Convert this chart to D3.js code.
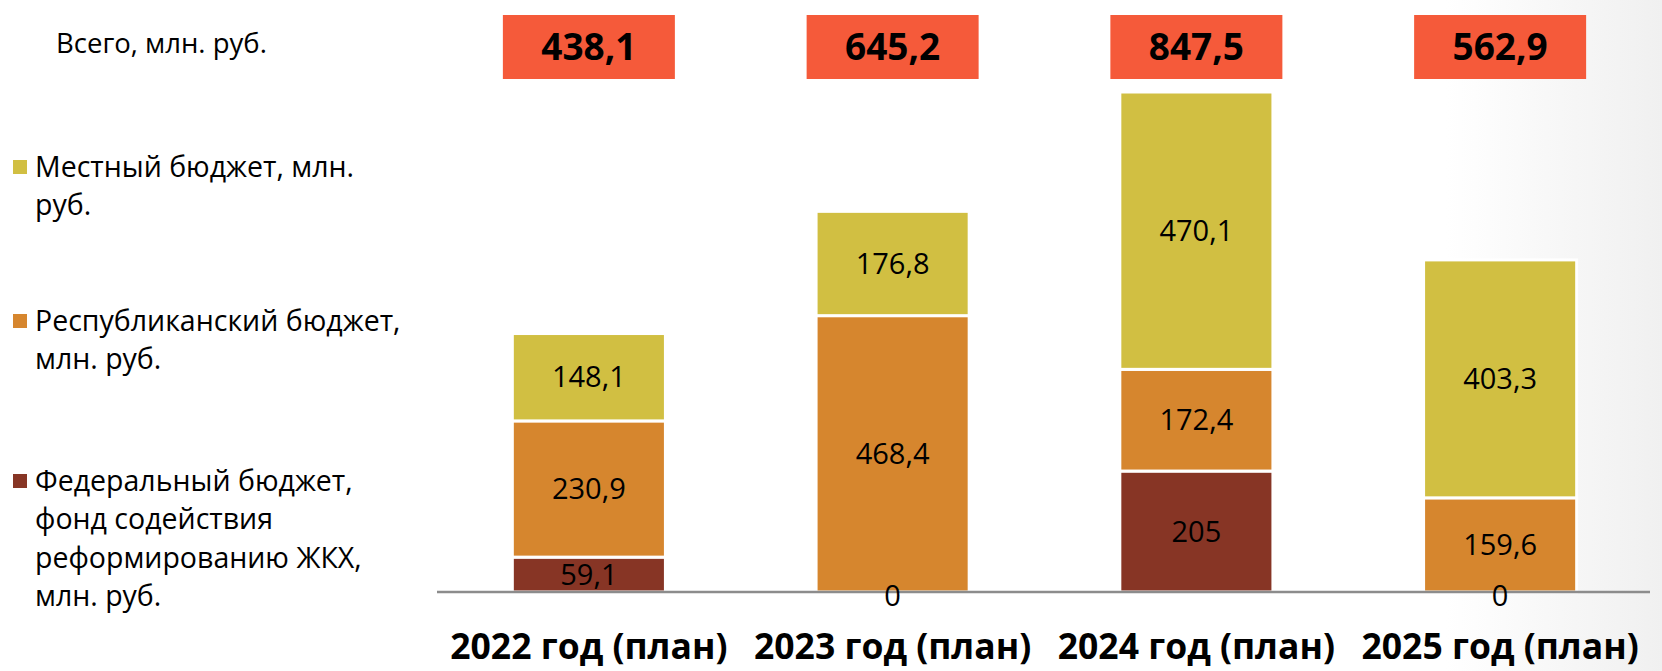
<!DOCTYPE html>
<html>
    <head>
        <meta charset="utf-8">
        <title>Бюджет по годам</title>
        <script src="https://d3js.org/d3.v7.min.js"></script>
        <style>
            body { margin: 0; background: #fff; }
            svg { display: block; font-family: 'Open Sans', 'Noto Sans', sans-serif; }
        </style>
    </head>
    <body>
        <script>
            const years = ['2022 год (план)', '2023 год (план)', '2024 год (план)', '2025 год (план)']
            const federal = [59.1, 0, 205, 0]
            const republican = [230.9, 468.4, 172.4, 159.6]
            const local = [148.1, 176.8, 470.1, 403.3]
            const totals = [438.1, 645.2, 847.5, 562.9]

            const seriesNames = [
                'Федеральный бюджет, фонд содействия реформированию ЖКХ, млн. руб.',
                'Республиканский бюджет, млн. руб.',
                'Местный бюджет, млн. руб.'
            ]
            const legendLines = [
                ['Федеральный бюджет,', 'фонд содействия', 'реформированию ЖКХ,', 'млн. руб.'],
                ['Республиканский бюджет,', 'млн. руб.'],
                ['Местный бюджет, млн.', 'руб.']
            ]
            const colors = ['#873525', '#d6862e', '#d1bf42']
            const totalColor = '#f55a3a'

            const W = 1662, H = 671
            const svg = d3.select('body').append('svg')
                .attr('width', W).attr('height', H)

            // faint grey shading on the right edge
            const grad = svg.append('defs').append('linearGradient')
                .attr('id', 'bg').attr('x1', 0).attr('x2', 1).attr('y1', 0).attr('y2', 0)
            grad.append('stop').attr('offset', '0.87').attr('stop-color', '#ffffff')
            grad.append('stop').attr('offset', '1').attr('stop-color', '#f0f0f0')
            svg.append('rect').attr('width', W).attr('height', H).attr('fill', 'url(#bg)')

            const rows = years.map((y, i) => ({ year: y, federal: federal[i], republican: republican[i], local: local[i], total: totals[i] }))
            const keys = ['federal', 'republican', 'local']
            const stack = d3.stack().keys(keys)(rows)

            const x = d3.scaleBand().domain(years).range([437, 1652]).paddingInner(0.496).paddingOuter(0.248)
            const y = d3.scaleLinear().domain([0, 847.5]).range([592, 92])
            const fmt = v => String(v).replace('.', ',')
            const cx = name => x(name) + x.bandwidth() / 2

            // bars
            const layers = svg.selectAll('.layer').data(stack).enter()
                .append('g').attr('class', 'layer')
                .attr('fill', (d, i) => colors[i])

            layers.selectAll('rect').data(d => d.filter(s => s[1] > s[0])).enter()
                .append('rect')
                    .attr('x', d => x(d.data.year))
                    .attr('width', x.bandwidth())
                    .attr('y', d => y(d[1]))
                    .attr('height', d => y(d[0]) - y(d[1]))
                    .attr('stroke', '#fff')
                    .attr('stroke-width', 3)

            // axis line
            svg.append('line')
                .attr('x1', 437).attr('x2', 1650)
                .attr('y1', y(0)).attr('y2', y(0))
                .attr('stroke', '#8c8c8c').attr('stroke-width', 2.5)

            // segment labels, on top of every bar
            const labels = svg.append('g')
            stack.forEach(layer => {
                labels.selectAll(null).data(layer).enter()
                    .append('text')
                        .attr('x', d => cx(d.data.year))
                        .attr('y', d => (y(d[0]) + y(d[1])) / 2 + (d[1] - d[0] === 0 ? 4 : 0))
                        .attr('dy', '0.35em')
                        .attr('text-anchor', 'middle')
                        .attr('fill', '#000')
                        .attr('font-size', 29)
                        .text(d => fmt(+(d[1] - d[0]).toFixed(1)))
            })

            // category labels
            const xAxis = svg.append('g')
                .attr('transform', `translate(0, ${y(0)})`)
                .call(d3.axisBottom(x).tickSize(0).tickPadding(0))
            xAxis.select('.domain').remove()
            xAxis.selectAll('text')
                .attr('y', 67).attr('dy', null)
                .attr('font-family', "'Open Sans', sans-serif")
                .attr('font-size', 35.5)
                .attr('font-weight', 'bold')
                .attr('fill', '#000')

            // totals boxes
            const boxW = 172, boxTop = 15, boxH = 64
            const tot = svg.selectAll('.total').data(rows).enter()
                .append('g').attr('class', 'total')
            tot.append('rect')
                .attr('x', d => cx(d.year) - boxW / 2)
                .attr('y', boxTop).attr('width', boxW).attr('height', boxH)
                .attr('fill', totalColor)
            tot.append('text')
                .attr('x', d => cx(d.year))
                .attr('y', boxTop + boxH / 2).attr('dy', '0.36em')
                .attr('text-anchor', 'middle')
                .attr('font-size', 37).attr('font-weight', 'bold')
                .text(d => fmt(d.total))

            // legend
            svg.append('text')
                .attr('x', 56).attr('y', 43).attr('dy', '0.35em')
                .attr('font-size', 27.5)
                .text('Всего, млн. руб.')

            const legendTop = [481, 321, 167]
            legendLines.forEach((lines, i) => {
                svg.append('rect')
                    .attr('x', 13).attr('y', legendTop[i] - 7)
                    .attr('width', 14).attr('height', 14)
                    .attr('fill', colors[i])
                    .append('title').text(seriesNames[i])
                const t = svg.append('text')
                    .attr('x', 35).attr('y', legendTop[i])
                    .attr('font-size', 28.5)
                t.selectAll('tspan').data(lines).enter()
                    .append('tspan')
                        .attr('x', 35)
                        .attr('dy', (d, j) => j === 0 ? '0.35em' : 38.5)
                        .text(d => d)
            })
        </script>
    </body>
</html>
